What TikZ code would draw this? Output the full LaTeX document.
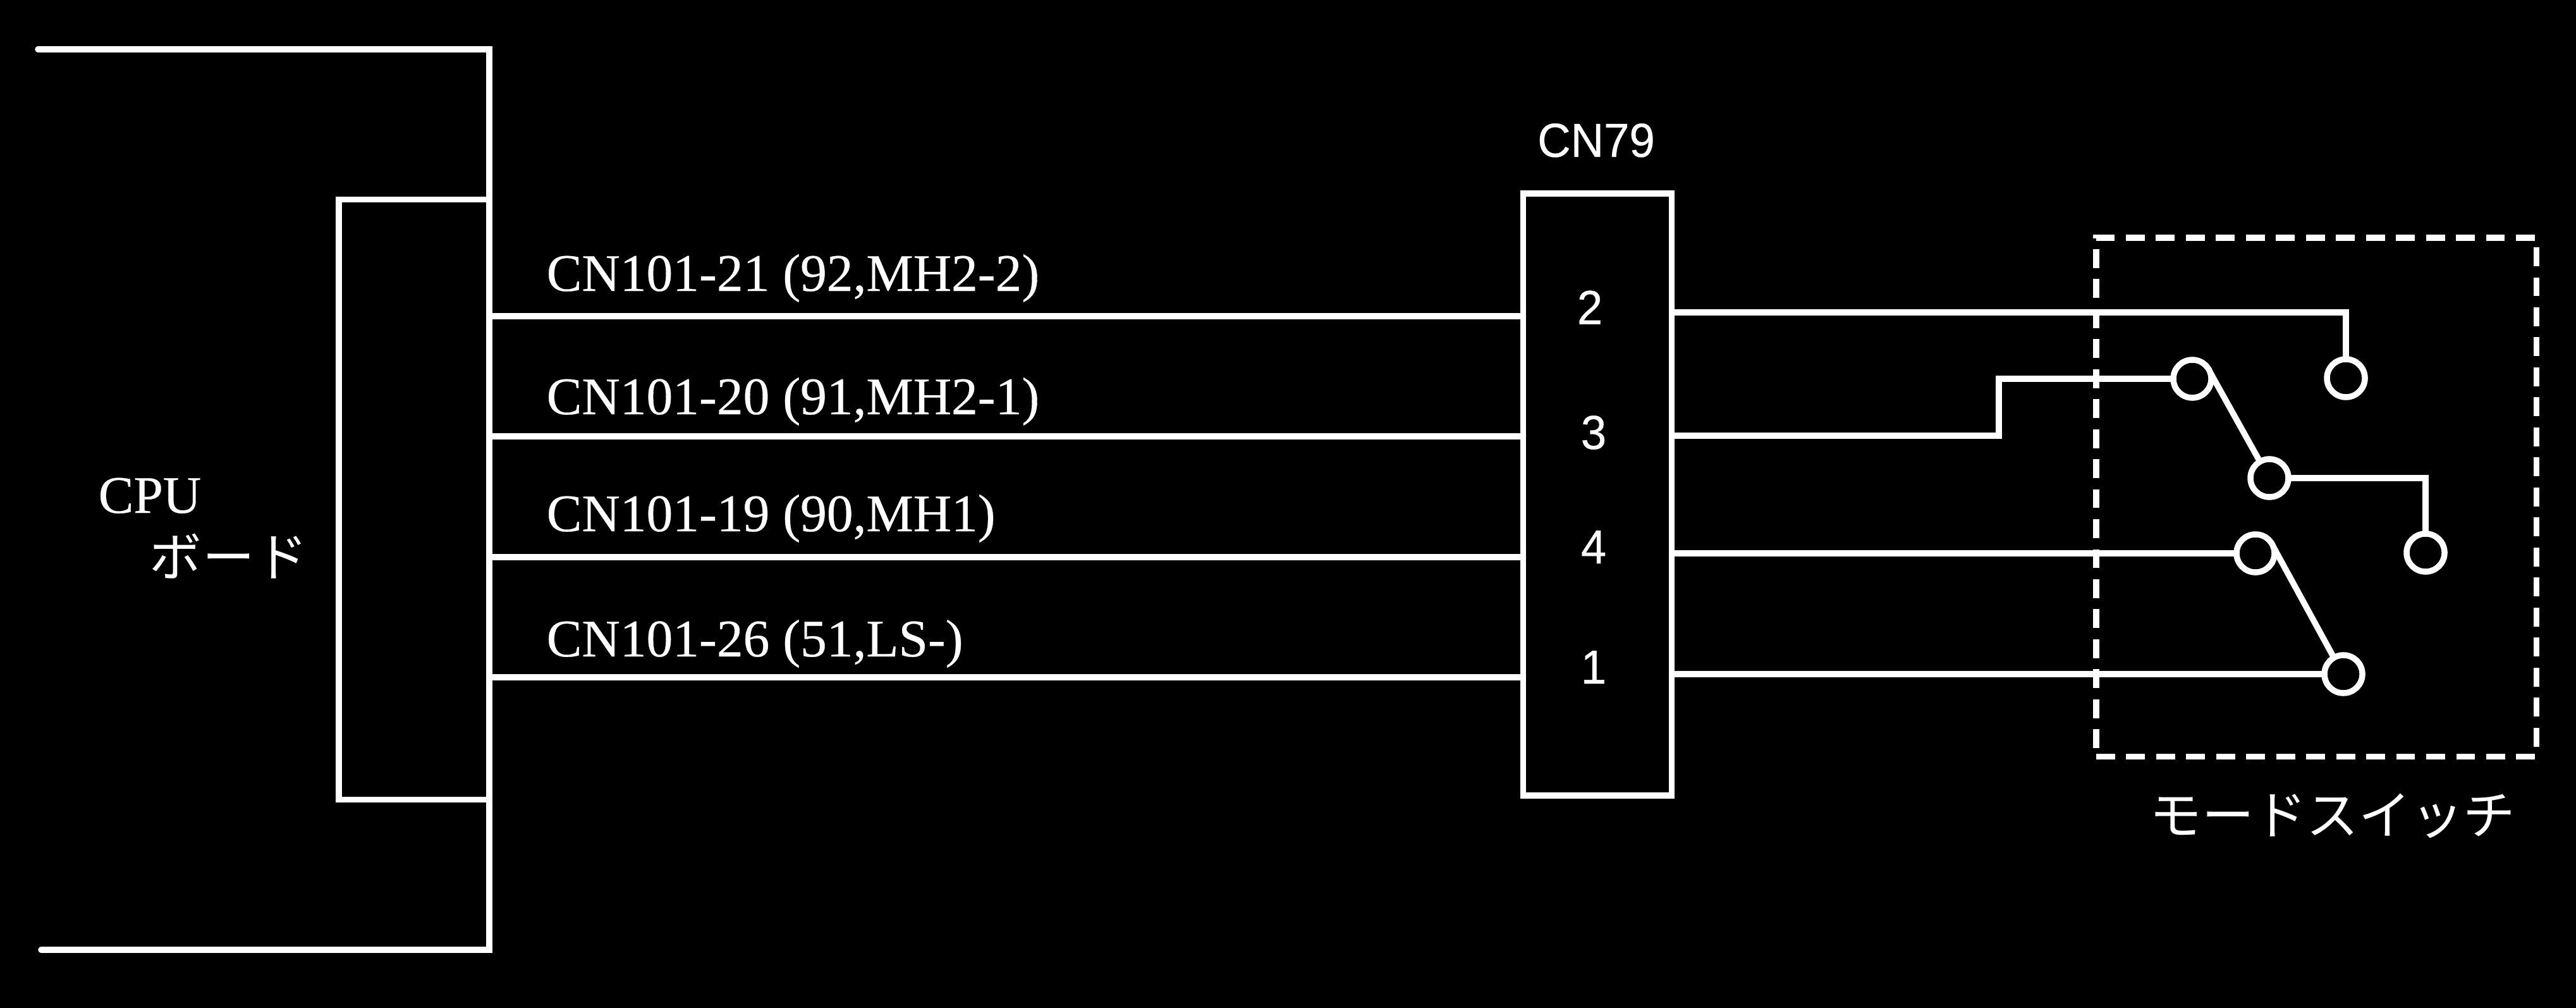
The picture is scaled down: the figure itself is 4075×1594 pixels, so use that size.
\documentclass[tikz,border=0pt]{standalone}
\usepackage{fontspec}
\usepackage{graphicx}
\setmainfont{Liberation Serif}[FakeBold=0.4]
\newfontfamily\serifheavy{Liberation Serif}[FakeBold=0.4]
\newfontfamily\sansfont{Liberation Sans}[FakeBold=0.4]
\newfontfamily\jpfont{Noto Sans CJK JP}
\usetikzlibrary{positioning}
\definecolor{panelblack}{RGB}{0,0,0}
\newcommand{\narrowed}[1]{\scalebox{0.96}[1]{#1}}

\begin{document}
\begin{tikzpicture}[x=0.01cm, y=-0.01cm, white, line width=2.7pt,
            box/.style={draw=white, rectangle, inner sep=0pt, outer sep=0pt},
            wire/.style={draw=white, line cap=round, line join=miter},
            contact/.style={draw=white, circle, inner sep=0pt, outer sep=0pt, minimum size=0.6cm},
            dashbox/.style={box, dash pattern=on 8.5pt off 5pt},
            wirelabel/.style={anchor=base west, inner sep=0pt, text=white, font=\serifheavy\fontsize{23.75pt}{26pt}\selectfont},
            pinlabel/.style={inner sep=0pt, text=white, font=\sansfont\fontsize{21.5pt}{24pt}\selectfont},
            jplabel/.style={inner sep=0pt, text=white, font=\jpfont\fontsize{23.5pt}{26pt}\selectfont}]
            \path[use as bounding box, fill=panelblack] (0,0) rectangle (4075,1594);

            % board
            \node[box, minimum width=2.38cm, minimum height=9.48cm] (cpu) at (655,790) {};
            \coordinate (boardtop) at (60,78);
            \coordinate (boardbot) at (65,1502);
            \draw[wire] (boardtop) -- (cpu.east |- boardtop) -- (cpu.east |- boardbot) -- (boardbot);
            \node[wirelabel] (cputext) at (151,811) {CPU};
            \node[jplabel] (boardtext) at (362,879) {ボ\hspace{0.02em}ー\hspace{0.02em}ド};

            % connector
            \node[box, minimum width=2.35cm, minimum height=9.51cm] (cn79) at (2527,782) {};
            \node[pinlabel] (cn79text) at (2525,222) {\narrowed{CN79}};
            \node[pinlabel] (pin2) at (2515,486) {\narrowed{2}};
            \node[pinlabel] (pin3) at (2521,684) {\narrowed{3}};
            \node[pinlabel] (pin4) at (2521,865) {\narrowed{4}};
            \node[pinlabel] (pin1) at (2521,1055) {\narrowed{1}};

            % wires to the board
            \coordinate (left2) at (775,500);
            \coordinate (left3) at (775,690);
            \coordinate (left4) at (775,881);
            \coordinate (left1) at (775,1071);
            \draw[wire] (left2) -- (left2 -| cn79.west);
            \draw[wire] (left3) -- (left3 -| cn79.west);
            \draw[wire] (left4) -- (left4 -| cn79.west);
            \draw[wire] (left1) -- (left1 -| cn79.west);
            \node[wirelabel] (label2) at (860,460) {CN101-21 (92,MH2-2)};
            \node[wirelabel] (label3) at (860,655) {CN101-20 (91,MH2-1)};
            \node[wirelabel] (label4) at (860,840) {CN101-19 (90,MH1)};
            \node[wirelabel] (label1) at (860,1038) {CN101-26 (51,LS-)};

            % mode switch
            \node[dashbox, minimum width=6.96cm, minimum height=8.2cm] (modesw) at (3664,786) {};
            \node[jplabel] (modetext) at (3690,1290) {モードスイッチ};
            \node[contact] (swa) at (3711,598) {};
            \node[contact] (swb) at (3468,599) {};
            \node[contact] (swc) at (3590,756) {};
            \node[contact] (swd) at (3837,874) {};
            \node[contact] (swe) at (3568,875) {};
            \node[contact] (swf) at (3707,1066) {};

            \coordinate (right2) at (2645,494);
            \coordinate (right3) at (2645,689);
            \coordinate (jog) at (3162,599);
            \draw[wire] (right2) -| (swa.north);
            \draw[wire] (right3) -| (jog) -- (swb.west);
            \draw[wire] (swb.20) -- (swc.120);
            \draw[wire] (swc.east) -| (swd.north);
            \draw[wire] (swe.west -| cn79.east) -- (swe.west);
            \draw[wire] (swe.20) -- (swf.120);
            \draw[wire] (swf.west -| cn79.east) -- (swf.west);
        \end{tikzpicture}
\end{document}
